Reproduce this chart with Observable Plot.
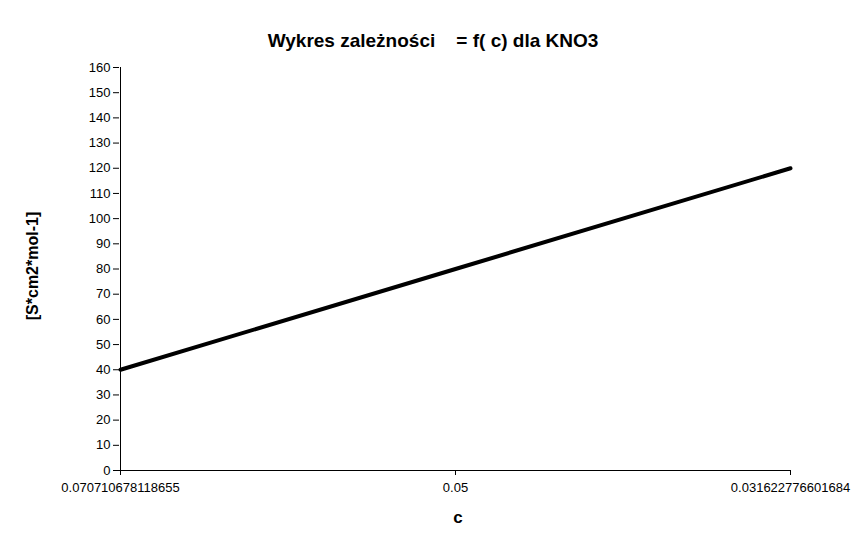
<!DOCTYPE html>
<html>
<head>
<meta charset="utf-8">
<script src="https://cdn.jsdelivr.net/npm/d3@7"></script>
<script src="https://cdn.jsdelivr.net/npm/@observablehq/plot@0.6"></script>
<style>
  html, body { margin: 0; padding: 0; background: white; }
</style>
</head>
<body>
<div id="chart"></div>
<script>
const categories = ["0.070710678118655", "0.05", "0.031622776601684"];
const values = [40, 80, 120];
const yTicks = [0, 10, 20, 30, 40, 50, 60, 70, 80, 90, 100, 110, 120, 130, 140, 150, 160];
const titleText = "Wykres zależności\u00a0\u00a0\u00a0\u00a0= f( c) dla KNO3";
const xLabel = "c";
const yLabel = "[S*cm2*mol-1]";

const data = categories.map((c, i) => ({c, v: values[i]}));

const chart = Plot.plot({
  width: 866,
  height: 548,
  marginLeft: 119,
  marginRight: 76,
  marginTop: 67,
  marginBottom: 78,
  style: {fontFamily: "'Liberation Sans', Arial, sans-serif", fontSize: "13px", background: "white", color: "black"},
  x: {type: "point", domain: categories, padding: 0},
  y: {domain: [0, 160]},
  marks: [
    Plot.axisY(yTicks, {tickSize: 6, tickPadding: 3, label: null, fontSize: 13}),
    Plot.axisX({tickSize: 5, tickPadding: 7, label: null, fontSize: 13}),
    Plot.ruleX([categories[0]], {x: d => d, stroke: "black"}),
    Plot.ruleY([0], {stroke: "black"}),
    Plot.line(data, {x: "c", y: "v", stroke: "black", strokeWidth: 4}),
    Plot.text([titleText], {text: d => d, frameAnchor: "top", dx: -22, dy: -34, fontSize: 19, fontWeight: "bold"}),
    Plot.text([xLabel], {text: d => d, frameAnchor: "bottom", dx: 3, dy: 52, fontSize: 17, fontWeight: "bold"}),
    Plot.text([yLabel], {text: d => d, frameAnchor: "left", textAnchor: "middle", dx: -87, dy: -3, rotate: -90, fontSize: 16, fontWeight: "bold"})
  ]
});
document.getElementById("chart").appendChild(chart);
</script>
</body>
</html>
